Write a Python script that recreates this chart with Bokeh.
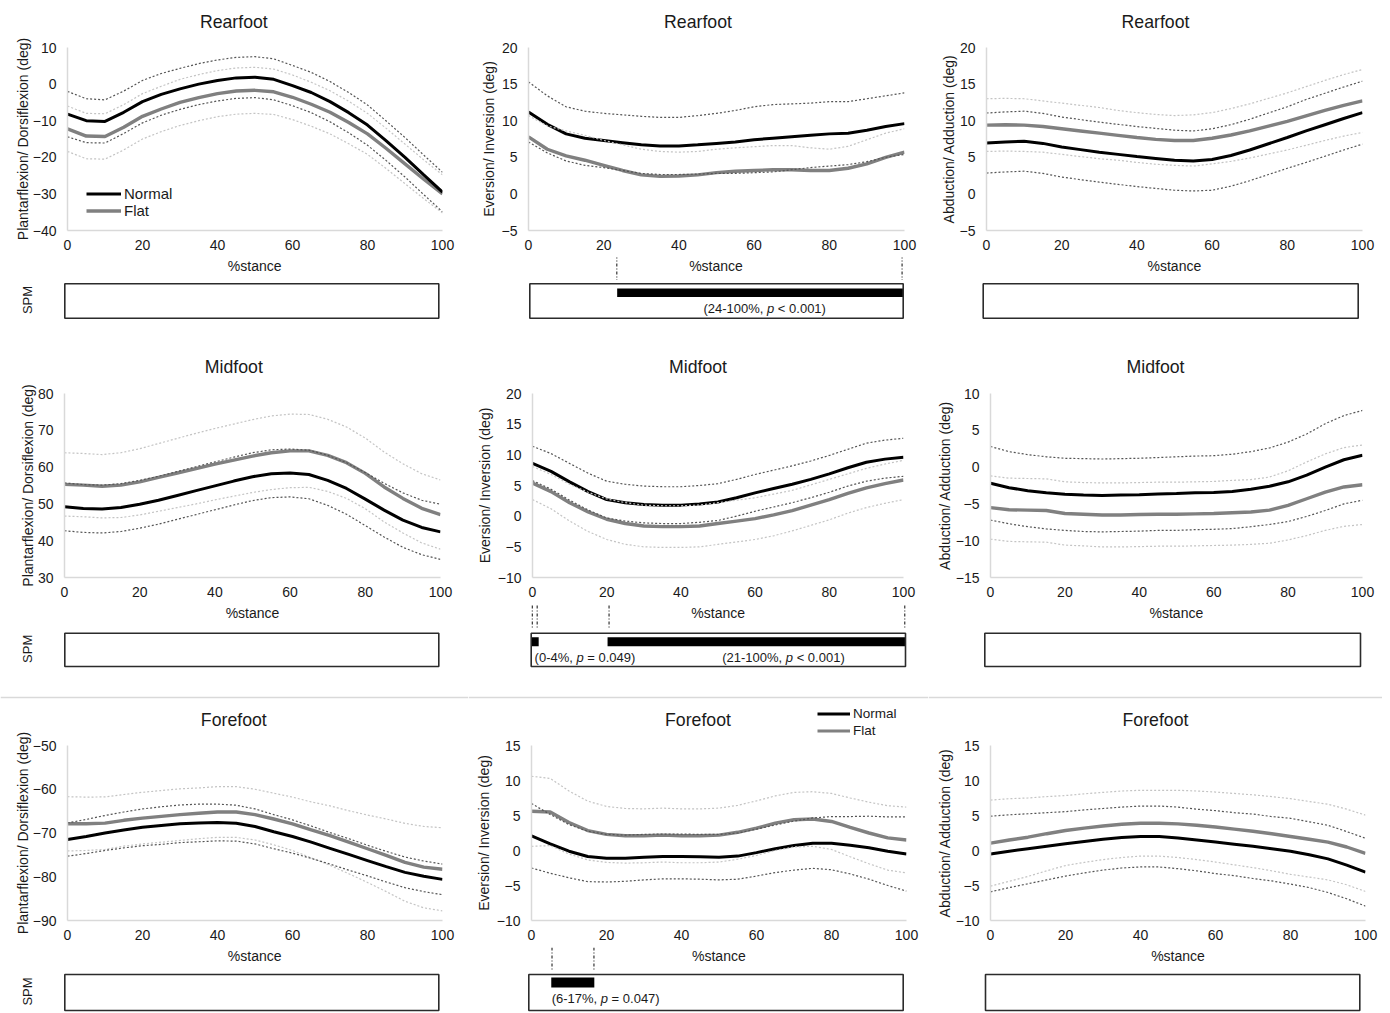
import math
from bokeh.plotting import figure
from bokeh.models import Range1d, FixedTicker, Legend, LegendItem, Span
from bokeh.layouts import column, row
from bokeh.core.properties import value
from bokeh.embed import file_html
from bokeh.resources import INLINE

# ---------------------------------------------------------------- data
stance = [0, 5, 10, 15, 20, 25, 30, 35, 40, 45, 50, 55, 60, 65, 70, 75, 80, 85, 90, 95, 100]
x_ticks = [0, 20, 40, 60, 80, 100]
regions = ["Rearfoot", "Midfoot", "Forefoot"]
y_labels = ["Plantarflexion/ Dorsiflexion (deg)", "Eversion/ Inversion (deg)", "Abduction/ Adduction (deg)"]
y_limits = [[(-40, 10), (-5, 20), (-5, 20)],
            [(30, 80), (-10, 20), (-15, 10)],
            [(-90, -50), (-10, 15), (-10, 15)]]
y_steps = [[10, 5, 5], [10, 5, 5], [10, 5, 5]]
groups = ["Normal", "Flat"]

# Rearfoot
rear_sag_normal_mean = [-8.2, -10.0, -10.2, -7.7, -4.8, -2.8, -1.3, 0.0, 1.0, 1.7, 1.9, 1.3, -0.4, -2.3, -4.8, -7.8, -11.2, -15.5, -20.0, -24.8, -29.5]
rear_sag_normal_sd = [6.2, 6.0, 5.9, 5.8, 5.8, 5.7, 5.6, 5.6, 5.6, 5.6, 5.6, 5.6, 5.5, 5.5, 5.5, 5.5, 5.5, 5.4, 5.4, 5.4, 5.4]
rear_sag_flat_mean = [-12.2, -14.2, -14.3, -11.8, -8.8, -6.8, -5.0, -3.7, -2.6, -1.9, -1.7, -2.1, -3.6, -5.5, -7.7, -10.5, -13.6, -17.6, -21.8, -26.0, -30.0]
rear_sag_flat_sd = [6.2, 6.2, 6.2, 6.2, 6.2, 6.2, 6.3, 6.3, 6.3, 6.3, 6.3, 6.2, 6.1, 6.0, 5.9, 5.8, 5.6, 5.5, 5.4, 5.3, 5.2]

rear_front_normal_mean = [11.2, 9.5, 8.2, 7.6, 7.3, 7.0, 6.7, 6.55, 6.55, 6.7, 6.9, 7.1, 7.4, 7.6, 7.8, 8.0, 8.2, 8.3, 8.7, 9.2, 9.6]
rear_front_normal_sd = [4.1, 3.9, 3.7, 3.7, 3.7, 3.8, 3.9, 3.9, 3.9, 4.0, 4.1, 4.3, 4.5, 4.6, 4.5, 4.4, 4.4, 4.3, 4.3, 4.2, 4.2]
rear_front_flat_mean = [7.8, 6.1, 5.2, 4.6, 3.9, 3.2, 2.6, 2.4, 2.45, 2.6, 2.9, 3.1, 3.2, 3.3, 3.3, 3.2, 3.2, 3.5, 4.1, 5.0, 5.7]
rear_front_flat_sd = [2.9, 3.2, 3.4, 3.4, 3.4, 3.5, 3.5, 3.4, 3.25, 3.2, 3.2, 3.2, 3.25, 3.3, 3.3, 3.1, 2.9, 3.0, 3.3, 3.3, 3.2]

rear_trans_normal_mean = [6.95, 7.1, 7.2, 6.9, 6.4, 6.05, 5.7, 5.4, 5.1, 4.85, 4.6, 4.5, 4.7, 5.25, 6.0, 6.85, 7.7, 8.6, 9.45, 10.3, 11.1]
rear_trans_normal_sd = [4.1, 4.1, 4.1, 4.1, 4.1, 4.1, 4.1, 4.1, 4.1, 4.1, 4.1, 4.1, 4.2, 4.2, 4.2, 4.2, 4.2, 4.3, 4.3, 4.3, 4.3]
rear_trans_flat_mean = [9.4, 9.45, 9.4, 9.2, 8.9, 8.6, 8.3, 8.0, 7.7, 7.45, 7.3, 7.3, 7.6, 8.05, 8.6, 9.25, 9.9, 10.65, 11.4, 12.1, 12.7]
rear_trans_flat_sd = [3.6, 3.6, 3.6, 3.5, 3.5, 3.5, 3.5, 3.4, 3.4, 3.4, 3.4, 3.5, 3.5, 3.6, 3.7, 3.8, 3.9, 4.0, 4.1, 4.2, 4.3]

# Midfoot
mid_sag_normal_mean = [49.2, 48.75, 48.6, 49.0, 49.9, 51.0, 52.3, 53.6, 54.9, 56.2, 57.4, 58.2, 58.4, 58.0, 56.4, 54.2, 51.3, 48.3, 45.6, 43.6, 42.4]
mid_sag_normal_sd = [6.5, 6.5, 6.5, 6.5, 6.5, 6.5, 6.5, 6.5, 6.5, 6.5, 6.5, 6.5, 6.5, 6.6, 6.8, 7.0, 7.2, 7.3, 7.4, 7.4, 7.5]
mid_sag_flat_mean = [55.3, 55.1, 54.8, 55.1, 56.0, 57.2, 58.4, 59.6, 60.8, 61.9, 63.0, 63.9, 64.4, 64.4, 63.2, 61.2, 58.3, 54.6, 51.5, 48.8, 47.1]
mid_sag_flat_sd = [8.6, 8.6, 8.6, 8.8, 9.0, 9.2, 9.4, 9.6, 9.7, 9.8, 9.9, 10.0, 10.0, 9.9, 9.8, 9.7, 9.6, 9.5, 9.4, 9.4, 9.4]

mid_front_normal_mean = [8.6, 7.3, 5.6, 4.0, 2.7, 2.2, 1.9, 1.8, 1.8, 2.0, 2.3, 3.0, 3.8, 4.5, 5.2, 6.0, 6.9, 7.9, 8.8, 9.3, 9.6]
mid_front_normal_sd = [2.8, 2.9, 3.0, 3.0, 3.0, 3.0, 3.0, 3.0, 3.0, 3.0, 3.0, 3.0, 3.0, 3.0, 3.0, 3.0, 3.0, 3.0, 3.1, 3.1, 3.1]
mid_front_flat_mean = [5.4, 4.0, 2.2, 0.7, -0.5, -1.2, -1.6, -1.7, -1.7, -1.6, -1.2, -0.8, -0.4, 0.2, 0.9, 1.8, 2.7, 3.7, 4.6, 5.3, 5.9]
mid_front_flat_sd = [2.7, 2.8, 3.0, 3.2, 3.3, 3.4, 3.4, 3.4, 3.4, 3.4, 3.4, 3.4, 3.4, 3.4, 3.3, 3.3, 3.3, 3.2, 3.2, 3.2, 3.2]

mid_trans_normal_mean = [-2.2, -2.8, -3.2, -3.5, -3.7, -3.8, -3.85, -3.8, -3.75, -3.65, -3.6, -3.5, -3.45, -3.3, -3.0, -2.6, -2.0, -1.1, 0.0, 1.0, 1.6]
mid_trans_normal_sd = [5.0, 4.9, 4.9, 4.9, 4.9, 4.95, 4.95, 4.95, 4.95, 4.95, 5.0, 5.0, 5.0, 5.05, 5.1, 5.2, 5.4, 5.6, 5.9, 6.0, 6.1]
mid_trans_flat_mean = [-5.5, -5.8, -5.85, -5.9, -6.3, -6.4, -6.5, -6.5, -6.45, -6.4, -6.4, -6.35, -6.3, -6.2, -6.1, -5.85, -5.2, -4.3, -3.4, -2.7, -2.4]
mid_trans_flat_sd = [4.3, 4.3, 4.3, 4.3, 4.3, 4.3, 4.35, 4.35, 4.35, 4.35, 4.35, 4.35, 4.35, 4.4, 4.4, 4.5, 4.7, 5.0, 5.2, 5.35, 5.4]

# Forefoot
fore_sag_normal_mean = [-71.5, -70.8, -70.0, -69.3, -68.7, -68.3, -67.9, -67.7, -67.6, -67.75, -68.5, -69.7, -70.8, -72.1, -73.5, -74.9, -76.3, -77.7, -79.0, -79.9, -80.6]
fore_sag_normal_sd = [3.8, 3.9, 4.0, 4.1, 4.2, 4.3, 4.3, 4.3, 4.2, 4.1, 4.0, 3.9, 3.8, 3.7, 3.6, 3.6, 3.5, 3.5, 3.5, 3.5, 3.5]
fore_sag_flat_mean = [-67.9, -67.9, -67.75, -67.1, -66.6, -66.2, -65.8, -65.5, -65.2, -65.2, -65.8, -66.8, -67.9, -69.3, -70.6, -72.1, -73.6, -75.1, -76.7, -77.8, -78.3]
fore_sag_flat_sd = [6.2, 6.1, 6.0, 5.9, 5.9, 5.9, 5.9, 5.8, 5.8, 5.8, 5.8, 5.9, 6.1, 6.4, 6.8, 7.2, 7.7, 8.3, 8.9, 9.3, 9.5]

fore_front_normal_mean = [2.1, 0.95, -0.1, -0.85, -1.1, -1.1, -0.95, -0.85, -0.85, -0.9, -0.95, -0.8, -0.3, 0.25, 0.7, 1.05, 1.05, 0.75, 0.4, -0.1, -0.5]
fore_front_normal_sd = [4.6, 4.2, 3.8, 3.6, 3.4, 3.3, 3.25, 3.2, 3.2, 3.2, 3.25, 3.3, 3.35, 3.4, 3.5, 3.6, 3.8, 4.1, 4.5, 4.9, 5.3]
fore_front_flat_mean = [5.6, 5.5, 4.0, 2.85, 2.3, 2.1, 2.1, 2.2, 2.1, 2.1, 2.2, 2.6, 3.2, 3.9, 4.4, 4.5, 4.15, 3.3, 2.5, 1.8, 1.5]
fore_front_flat_sd = [5.0, 4.8, 4.5, 4.2, 4.0, 3.9, 3.85, 3.85, 3.85, 3.85, 3.85, 3.85, 3.9, 3.9, 3.9, 3.9, 4.0, 4.2, 4.4, 4.6, 4.7]

fore_trans_normal_mean = [-0.5, -0.1, 0.25, 0.6, 0.95, 1.3, 1.6, 1.85, 2.0, 2.0, 1.8, 1.5, 1.2, 0.9, 0.6, 0.25, -0.1, -0.6, -1.2, -2.1, -3.1]
fore_trans_normal_sd = [5.4, 5.2, 5.0, 4.8, 4.6, 4.5, 4.4, 4.35, 4.35, 4.35, 4.4, 4.4, 4.5, 4.5, 4.6, 4.6, 4.7, 4.7, 4.8, 4.8, 4.85]
fore_trans_flat_mean = [1.05, 1.5, 1.9, 2.4, 2.85, 3.2, 3.5, 3.75, 3.9, 3.9, 3.8, 3.6, 3.35, 3.05, 2.75, 2.4, 2.0, 1.6, 1.2, 0.5, -0.4]
fore_trans_flat_sd = [6.15, 5.9, 5.6, 5.3, 5.0, 4.9, 4.8, 4.75, 4.7, 4.7, 4.8, 4.9, 5.0, 5.1, 5.2, 5.3, 5.4, 5.4, 5.4, 5.4, 5.45]

# SPM{t} supra-threshold clusters (%stance), threshold markers and p-value labels
rear_front_clusters = [(23.4, 100.0)]
rear_front_markers = [23.3, 99.7]
rear_front_labels = [("(24-100%, ", "p", " < 0.001)")]
mid_front_clusters = [(0.0, 2.0), (20.4, 100.0)]
mid_front_markers = [0.3, 1.6, 20.8, 99.8]
mid_front_labels = [("(0-4%, ", "p", " = 0.049)"), ("(21-100%, ", "p", " < 0.001)")]
fore_front_clusters = [(6.0, 17.5)]
fore_front_markers = [6.2, 17.4]
fore_front_labels = [("(6-17%, ", "p", " = 0.047)")]

PANELS = [
    [(rear_sag_normal_mean, rear_sag_normal_sd, rear_sag_flat_mean, rear_sag_flat_sd),
     (rear_front_normal_mean, rear_front_normal_sd, rear_front_flat_mean, rear_front_flat_sd),
     (rear_trans_normal_mean, rear_trans_normal_sd, rear_trans_flat_mean, rear_trans_flat_sd)],
    [(mid_sag_normal_mean, mid_sag_normal_sd, mid_sag_flat_mean, mid_sag_flat_sd),
     (mid_front_normal_mean, mid_front_normal_sd, mid_front_flat_mean, mid_front_flat_sd),
     (mid_trans_normal_mean, mid_trans_normal_sd, mid_trans_flat_mean, mid_trans_flat_sd)],
    [(fore_sag_normal_mean, fore_sag_normal_sd, fore_sag_flat_mean, fore_sag_flat_sd),
     (fore_front_normal_mean, fore_front_normal_sd, fore_front_flat_mean, fore_front_flat_sd),
     (fore_trans_normal_mean, fore_trans_normal_sd, fore_trans_flat_mean, fore_trans_flat_sd)],
]
SPM = {(0, 1): (rear_front_clusters, rear_front_markers, rear_front_labels),
       (1, 1): (mid_front_clusters, mid_front_markers, mid_front_labels),
       (2, 1): (fore_front_clusters, fore_front_markers, fore_front_labels)}
HIDDEN_BANDS = {(0, 1): {"flat_lower"}}

# ---------------------------------------------------------------- style / layout
FONT = "Liberation Sans"
TXT = "#1a1a1a"
C_NORMAL, C_FLAT = "#000000", "#808080"
C_NORMAL_SD, C_FLAT_SD = "#555555", "#c4c4c4"
C_AXIS = "#d9d9d9"

COL_X = [(0, 468), (468, 928), (928, 1382)]
FRAME_X = [[(66.7, 441.7), (527.7, 903.3), (986.0, 1361.7)],
           [(64.0, 440.0), (532.0, 903.3), (990.0, 1361.7)],
           [(66.7, 441.7), (531.0, 905.7), (990.0, 1365.0)]]
FRAME_Y = [(47, 230), (393, 577), (745, 920)]
TITLE_TOP = [0, 355, 700]
SPM_BOTTOM = [355, 700, 1012]
TOP_PAD_DEFAULT, BOTTOM_PAD = 8, 27
TOP_PAD = {(0, 0): 16, (1, 0): 12, (2, 0): 17}
AXIS_LABEL_STANDOFF = [-1, 2, 0]
TITLE_X = [233.3, 697.5, 1155.0]
TITLE_Y = [21.0, 366.7, 719.0]
BOX_X = [[(64.3, 438.3), (529.3, 902.7), (982.7, 1357.7)],
         [(64.3, 438.3), (530.7, 905.0), (984.3, 1360.0)],
         [(64.3, 438.3), (528.3, 902.7), (985.0, 1359.3)]]
BOX_Y = [(283.3, 317.7), (632.7, 666.0), (974.0, 1010.0)]
BAR_Y = [(288.0, 296.5), (636.7, 645.7), (977.0, 987.0)]
MARK_Y = [(255.0, 279.5), (605.0, 629.0), (947.0, 971.0)]
PTEXT_Y = [308.3, 656.5, 998.3]
STANCE_Y = [265.0, 612.0, 955.7]
SPM_LABEL_X = 26.7
SEPARATOR_Y = 697.0
PTEXT_ANCHOR = {(0, 1): [(62.9, "center")], (1, 1): [(0.9, "left"), (67.4, "center")], (2, 1): [(6.1, "left")]}
LEGENDS = {(0, 0): dict(where="plot", loc=(19, 11), size="15px", gw=35, gh=17),
           (2, 1): dict(where="title", loc=(349, -2), size="13.5px", gw=33, gh=17)}

ARIAL_W = {"(": 333, ")": 333, "-": 333, "%": 889, ",": 278, " ": 278, "<": 584, "=": 584, ".": 278}


def text_w(s, px):
    return sum(ARIAL_W.get(ch, 556) for ch in s) * px / 1000.0


def top_pad(r, c):
    return TOP_PAD.get((r, c), TOP_PAD_DEFAULT)


def base_fig(w, h, xr, yr, **kw):
    p = figure(width=w, height=h, x_range=xr, y_range=yr, output_backend="svg",
               toolbar_location=None, **kw)
    p.outline_line_color = None
    p.background_fill_color = "white"
    p.border_fill_color = "white"
    try:
        p.frame_align = False   # keep every frame exactly where its borders put it
    except Exception:
        pass
    return p


def add_legend(p, r_normal, r_flat, cfg):
    leg = Legend(items=[LegendItem(label=groups[0], renderers=[r_normal]),
                        LegendItem(label=groups[1], renderers=[r_flat])],
                 location=cfg["loc"], orientation="vertical",
                 glyph_width=cfg["gw"], glyph_height=cfg["gh"], label_height=cfg["gh"],
                 label_standoff=3, spacing=0, padding=0, margin=0,
                 border_line_color=None, background_fill_alpha=0,
                 label_text_font=FONT, label_text_font_size=cfg["size"], label_text_color=TXT)
    p.add_layout(leg)


def make_title(r, c):
    cx0, cx1 = COL_X[c]
    top, bot = TITLE_TOP[r], FRAME_Y[r][0] - top_pad(r, c)
    p = base_fig(cx1 - cx0, bot - top, Range1d(cx0, cx1), Range1d(bot, top),
                 x_axis_type=None, y_axis_type=None, min_border=0)
    p.text(x=[TITLE_X[c]], y=[TITLE_Y[r]], text=[regions[r]], text_font=value(FONT),
           text_font_size="17.7px", text_color=TXT, text_align="center", text_baseline="middle")
    cfg = LEGENDS.get((r, c))
    if cfg and cfg["where"] == "title":
        # key renderers kept off-canvas: they only lend their style to the legend
        off = cx0 - 10000
        rn = p.line(x=[off, off + 1], y=[top, top], line_color=C_NORMAL, line_width=3)
        rf = p.line(x=[off, off + 1], y=[top, top], line_color=C_FLAT, line_width=3)
        add_legend(p, rn, rf, cfg)
    return p


def make_plot(r, c):
    nm, ns, fm, fs = PANELS[r][c]
    cx0, cx1 = COL_X[c]
    fx0, fx1 = FRAME_X[r][c]
    left = int(round(fx0 - cx0))
    fw = int(round(fx1 - fx0))
    right = (cx1 - cx0) - left - fw
    ftop, fbot = FRAME_Y[r]
    tp = top_pad(r, c)
    ymin, ymax = y_limits[r][c]
    p = base_fig(cx1 - cx0, (fbot - ftop) + tp + BOTTOM_PAD, Range1d(0, 100), Range1d(ymin, ymax),
                 min_border_left=left, min_border_right=right,
                 min_border_top=tp, min_border_bottom=BOTTOM_PAD)
    p.xgrid.visible = False
    p.ygrid.visible = False
    p.xaxis.ticker = FixedTicker(ticks=x_ticks)
    p.yaxis.ticker = FixedTicker(ticks=list(range(ymin, ymax + 1, y_steps[r][c])))
    for ax in (p.xaxis, p.yaxis):
        ax.axis_line_color = C_AXIS
        ax.axis_line_width = 1.5
        ax.major_tick_line_color = None
        ax.minor_tick_line_color = None
        ax.major_tick_out = 0
        ax.major_tick_in = 0
        ax.minor_tick_out = 0
        ax.major_label_text_font = FONT
        ax.major_label_text_font_size = "14px"
        ax.major_label_text_color = TXT
    p.xaxis.major_label_standoff = 9
    p.yaxis.major_label_standoff = 11
    p.yaxis.axis_label = y_labels[c]
    p.yaxis.axis_label_text_font = FONT
    p.yaxis.axis_label_text_font_size = "14px"
    p.yaxis.axis_label_text_font_style = "normal"
    p.yaxis.axis_label_text_color = TXT
    p.yaxis.axis_label_standoff = AXIS_LABEL_STANDOFF[c]

    rf = p.line(stance, fm, line_color=C_FLAT, line_width=3.4)
    rn = p.line(stance, nm, line_color=C_NORMAL, line_width=3)
    hidden = HIDDEN_BANDS.get((r, c), set())
    for name, mean, sd, col in (("flat", fm, fs, C_FLAT_SD), ("normal", nm, ns, C_NORMAL_SD)):
        for side, sgn in (("upper", 1), ("lower", -1)):
            if f"{name}_{side}" in hidden:
                continue
            p.line(stance, [m + sgn * s for m, s in zip(mean, sd)], line_color=col,
                   line_width=1.2, line_dash="2 2")
    cfg = LEGENDS.get((r, c))
    if cfg and cfg["where"] == "plot":
        add_legend(p, rn, rf, cfg)
    return p


def make_spm(r, c):
    cx0, cx1 = COL_X[c]
    top, bot = FRAME_Y[r][1] + BOTTOM_PAD, SPM_BOTTOM[r]
    bx0, bx1 = BOX_X[r][c]
    k = 100.0 / (bx1 - bx0)
    p = base_fig(cx1 - cx0, bot - top, Range1d((cx0 - bx0) * k, (cx1 - bx0) * k), Range1d(bot, top),
                 x_axis_type=None, y_axis_type=None, min_border=0)
    fx0, fx1 = FRAME_X[r][c]
    p.text(x=[((fx0 + fx1) / 2 - bx0) * k], y=[STANCE_Y[r]], text=["%stance"], text_font=value(FONT),
           text_font_size="14px", text_color=TXT, text_align="center", text_baseline="middle")
    by0, by1 = BOX_Y[r]
    p.quad(left=[0], right=[100], top=[by0], bottom=[by1], fill_color="white", line_color=None)
    spm = SPM.get((r, c))
    if spm:
        clusters, markers, labels = spm
        p.quad(left=[a for a, b in clusters], right=[b for a, b in clusters],
               top=[BAR_Y[r][0]] * len(clusters), bottom=[BAR_Y[r][1]] * len(clusters),
               fill_color="black", line_color=None)
        p.segment(x0=markers, x1=markers, y0=[MARK_Y[r][0]] * len(markers), y1=[MARK_Y[r][1]] * len(markers),
                  line_color="#333333", line_width=1.2, line_dash="3 2 1 2")
        for (anchor, align), parts in zip(PTEXT_ANCHOR[(r, c)], labels):
            ws = [text_w(s, 13) for s in parts]
            start = -sum(ws) / 2 if align == "center" else 0.0
            offs = [start, start + ws[0], start + ws[0] + ws[1]]
            tail = parts[2].lstrip(" ")
            offs[2] += text_w(parts[2][:len(parts[2]) - len(tail)], 13)
            p.text(x=[anchor, anchor], y=[PTEXT_Y[r]] * 2, text=[parts[0].rstrip(" "), tail],
                   x_offset=[offs[0], offs[2]],
                   text_font=value(FONT), text_font_size="13px", text_color=TXT,
                   text_align="left", text_baseline="middle")
            p.text(x=[anchor], y=[PTEXT_Y[r]], text=[parts[1]], x_offset=[offs[1]],
                   text_font=value(FONT), text_font_size="13px", text_color=TXT, text_font_style="italic",
                   text_align="left", text_baseline="middle")
    p.quad(left=[0], right=[100], top=[by0], bottom=[by1], fill_color=None, line_color="#2b2b2b", line_width=1.6)
    if c == 0:
        p.text(x=[(SPM_LABEL_X - bx0) * k], y=[(by0 + by1) / 2 - 1], text=["SPM"], angle=math.pi / 2,
               text_font=value(FONT), text_font_size="13px", text_color=TXT,
               text_align="center", text_baseline="middle")
    if r == 1:
        p.add_layout(Span(location=SEPARATOR_Y, dimension="width", line_color=C_AXIS, line_width=1.5))
    return p


cols = []
for c in range(3):
    cells = []
    for r in range(3):
        cells += [make_title(r, c), make_plot(r, c), make_spm(r, c)]
    cols.append(column(*cells))
layout = row(*cols)

open("out.html", "w").write(file_html(layout, INLINE))
